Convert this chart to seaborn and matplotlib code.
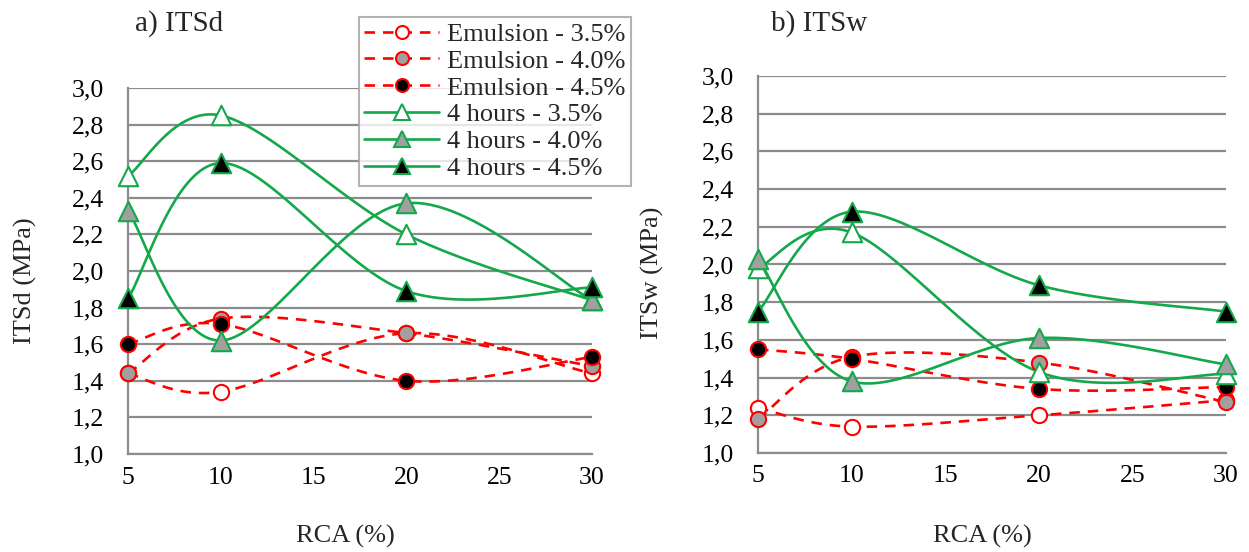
import numpy as np
import pandas as pd
import matplotlib
matplotlib.use("Agg")
import matplotlib.pyplot as plt
import seaborn as sns
from matplotlib.ticker import FuncFormatter
from matplotlib.lines import Line2D

sns.set_theme(style="white")
plt.rcParams['font.family'] = ['Liberation Serif', 'DejaVu Serif']

rca = [5, 10, 20, 30]
series_names = ["Emulsion - 3.5%", "Emulsion - 4.0%", "Emulsion - 4.5%",
                "4 hours - 3.5%", "4 hours - 4.0%", "4 hours - 4.5%"]

itsd_em_35 = [1.44, 1.34, 1.66, 1.44]
itsd_em_40 = [1.44, 1.74, 1.66, 1.48]
itsd_em_45 = [1.60, 1.71, 1.40, 1.53]
itsd_4h_35 = [2.52, 2.85, 2.20, 1.84]
itsd_4h_40 = [2.33, 1.62, 2.37, 1.84]
itsd_4h_45 = [1.85, 2.59, 1.89, 1.91]

itsw_em_35 = [1.24, 1.14, 1.20, 1.28]
itsw_em_40 = [1.18, 1.51, 1.48, 1.27]
itsw_em_45 = [1.55, 1.50, 1.34, 1.35]
itsw_4h_35 = [1.98, 2.17, 1.43, 1.42]
itsw_4h_40 = [2.03, 1.38, 1.61, 1.47]
itsw_4h_45 = [1.75, 2.28, 1.89, 1.75]

y_ticks = [1.0, 1.2, 1.4, 1.6, 1.8, 2.0, 2.2, 2.4, 2.6, 2.8, 3.0]
x_ticks = [5, 10, 15, 20, 25, 30]

RED = "#FF0000"
GREEN = "#14A84B"
styles = [
    dict(color=RED, ls="--", marker="o", face="white", ms=11),
    dict(color=RED, ls="--", marker="o", face="#A0A0A0", ms=11),
    dict(color=RED, ls="--", marker="o", face="black", ms=11),
    dict(color=GREEN, ls="-", marker="^", face="white", ms=14),
    dict(color=GREEN, ls="-", marker="^", face="#A0A0A0", ms=14),
    dict(color=GREEN, ls="-", marker="^", face="black", ms=14),
]


def smooth(xs, ys, n=40):
    P = np.column_stack([xs, ys]).astype(float)
    Pe = np.vstack([P[0], P, P[-1]])
    out = []
    t = np.linspace(0, 1, n)
    for i in range(len(P) - 1):
        p0, p1, p2, p3 = Pe[i], Pe[i + 1], Pe[i + 2], Pe[i + 3]
        c1 = p1 + (p2 - p0) / 6.0
        c2 = p2 - (p3 - p1) / 6.0
        seg = ((1 - t)[:, None] ** 3 * p1 + 3 * ((1 - t) ** 2 * t)[:, None] * c1
               + 3 * ((1 - t) * t ** 2)[:, None] * c2 + (t ** 3)[:, None] * p2)
        out.append(seg if i == 0 else seg[1:])
    out = np.vstack(out)
    return out[:, 0], out[:, 1]


W, H = 1249, 552
fig = plt.figure(figsize=(W / 100, H / 100), dpi=100)
ax1 = fig.add_axes([128 / W, 1 - 454 / H, (592 - 128) / W, (454 - 88) / H])
ax2 = fig.add_axes([758 / W, 1 - 453 / H, (1226 - 758) / W, (453 - 76) / H])

FS = 19
TFS = 18.5
GRID = "#8C8C8C"


def draw(ax, data):
    for name, ys, st in zip(series_names, data, styles):
        sx, sy = smooth(rca, ys)
        df = pd.DataFrame({"x": sx, "y": sy})
        sns.lineplot(data=df, x="x", y="y", ax=ax, sort=False, estimator=None,
                     color=st["color"], linewidth=1.9)
        if st["ls"] != "-":
            ax.lines[-1].set_dashes([4, 3])
        dp = pd.DataFrame({"x": rca, "y": ys})
        sns.scatterplot(data=dp, x="x", y="y", ax=ax, marker=st["marker"],
                        s=st["ms"] ** 2, facecolor=st["face"], edgecolor=st["color"],
                        linewidth=1.5, zorder=5, clip_on=False)
    ax.set_xlim(5, 30)
    ax.set_ylim(1.0, 3.0)
    ax.set_xticks(x_ticks)
    ax.set_yticks(y_ticks)
    ax.yaxis.set_major_formatter(FuncFormatter(lambda v, p: f"{v:.1f}".replace(".", ",")))
    ax.grid(axis="y", color=GRID, linewidth=1.6)
    ax.set_axisbelow(True)
    for s in ["top", "right"]:
        ax.spines[s].set_visible(False)
    for s in ["left", "bottom"]:
        ax.spines[s].set_color(GRID)
        ax.spines[s].set_linewidth(1.6)
    ax.tick_params(axis="both", direction="out", width=1.6, color=GRID,
                   labelsize=TFS, labelcolor="black")
    ax.tick_params(axis="y", length=7, pad=10)
    ax.tick_params(axis="x", length=5, pad=4)
    ax.set_xlabel("")
    ax.set_ylabel("")
    for c in ax.collections:
        c.set_clip_on(False)


draw(ax1, [itsd_em_35, itsd_em_40, itsd_em_45, itsd_4h_35, itsd_4h_40, itsd_4h_45])
draw(ax2, [itsw_em_35, itsw_em_40, itsw_em_45, itsw_4h_35, itsw_4h_40, itsw_4h_45])

fig.text(179 / W, 1 - 24 / H, "a) ITSd", fontsize=21, ha="center", va="center")
fig.text(819 / W, 1 - 24 / H, "b) ITSw", fontsize=21, ha="center", va="center")
fig.text(25 / W, 1 - 281 / H, "ITSd (MPa)", fontsize=FS, rotation=90, ha="center", va="center")
fig.text(652 / W, 1 - 273 / H, "ITSw (MPa)", fontsize=FS, rotation=90, ha="center", va="center")
fig.text(345 / W, 1 - 536 / H, "RCA (%)", fontsize=FS, ha="center", va="center")
fig.text(982 / W, 1 - 536 / H, "RCA (%)", fontsize=FS, ha="center", va="center")

handles = []
for st in styles:
    h = Line2D([], [], color=st["color"], linewidth=1.9,
               linestyle=st["ls"],
               marker=st["marker"], markersize=st["ms"] * 0.85,
               markerfacecolor=st["face"], markeredgecolor=st["color"], markeredgewidth=1.5)
    if st["ls"] != "-":
        h.set_dashes([4, 3])
    handles.append(h)

leg = fig.legend(handles, series_names, loc="upper left",
                 bbox_to_anchor=(359 / W, 1 - 17 / H), fontsize=FS,
                 frameon=True, fancybox=False, shadow=False, handlelength=2.85,
                 handletextpad=0.3, labelspacing=0.13, borderpad=0.2, borderaxespad=0)
leg.get_frame().set_edgecolor("#A0A0A0")
leg.get_frame().set_linewidth(1.5)

fig.savefig("out.png", dpi=100)
